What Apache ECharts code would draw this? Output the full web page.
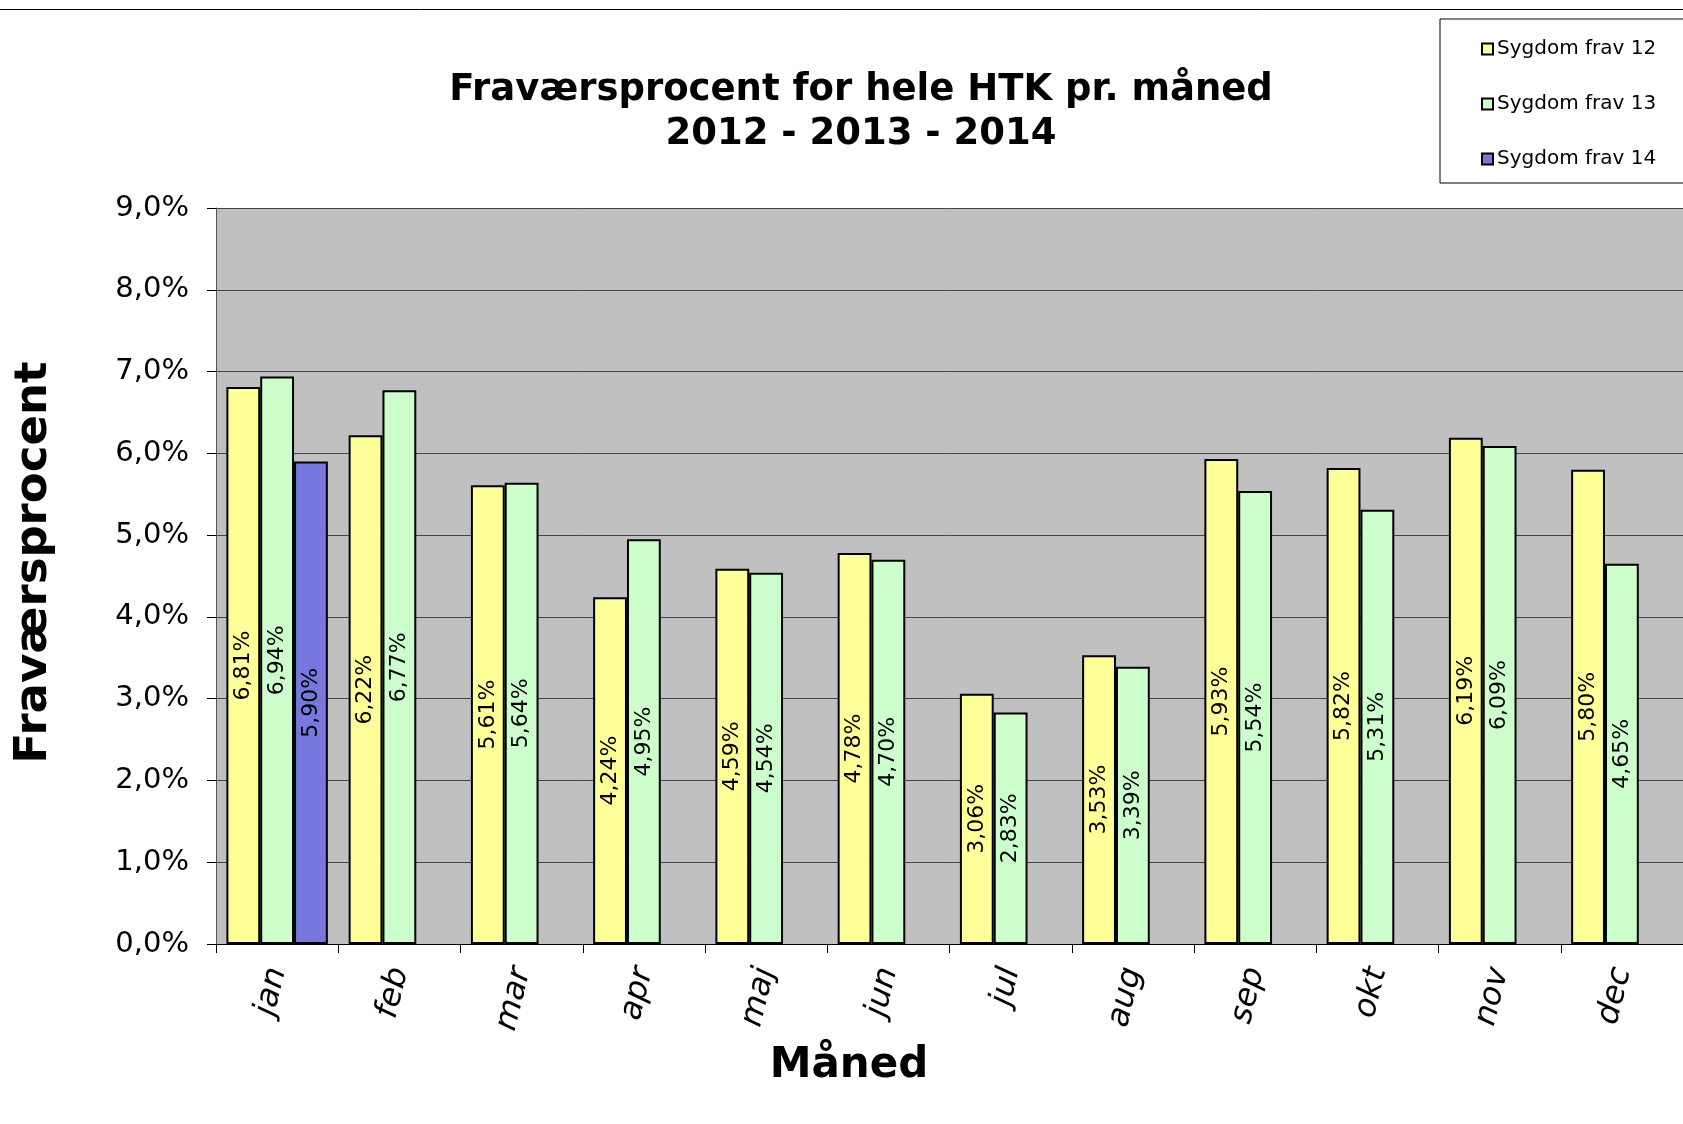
<!DOCTYPE html>
<html>
<head>
<meta charset="utf-8">
<script src="https://cdn.jsdelivr.net/npm/echarts@6/dist/echarts.min.js"></script>
<style>
  html, body { margin: 0; padding: 0; background: #fff; }
  #chart { width: 1683px; height: 1124px; }
</style>
</head>
<body>
<div id="chart"></div>
<script>
// måneder
var months = ['jan', 'feb', 'mar', 'apr', 'maj', 'jun', 'jul', 'aug', 'sep', 'okt', 'nov', 'dec'];
// fraværsprocent pr. år
var frav12 = [6.81, 6.22, 5.61, 4.24, 4.59, 4.78, 3.06, 3.53, 5.93, 5.82, 6.19, 5.80];
var frav13 = [6.94, 6.77, 5.64, 4.95, 4.54, 4.70, 2.83, 3.39, 5.54, 5.31, 6.09, 4.65];
var frav14 = [5.90, null, null, null, null, null, null, null, null, null, null, null];
var seriesNames = ['Sygdom frav 12', 'Sygdom frav 13', 'Sygdom frav 14'];

var font = 'DejaVu Sans, Verdana, sans-serif';

function pct(v, d) {
  return v.toFixed(d).replace('.', ',') + '%';
}

function barSeries(name, data, color) {
  return {
    name: name,
    type: 'bar',
    data: data,
    barGap: '0%',
    barCategoryGap: '17%',
    itemStyle: { color: color, borderColor: '#000', borderWidth: 2 },
    label: {
      show: true,
      position: 'inside',
      rotate: 90,
      fontFamily: font,
      fontSize: 22,
      color: '#000',
      formatter: function (p) { return pct(p.value, 2); }
    }
  };
}

var myChart = echarts.init(document.getElementById('chart'));
var option = {
  backgroundColor: '#fff',
  animation: false,
  title: {
    text: 'Fraværsprocent for hele HTK pr. måned\n2012 - 2013 - 2014',
    left: 856,
    top: 63,
    textAlign: 'center',
    textStyle: { fontFamily: font, fontWeight: 'bold', fontSize: 37, lineHeight: 44, color: '#000' }
  },
  legend: {
    orient: 'vertical',
    left: 1440,
    top: 19,
    padding: [20, 300, 14, 41],
    itemGap: 35,
    itemWidth: 11,
    itemHeight: 11,
    icon: 'rect',
    borderColor: '#000',
    borderWidth: 1,
    backgroundColor: '#fff',
    data: seriesNames,
    textStyle: { fontFamily: font, fontSize: 20, color: '#000', padding: [0, 0, 0, -1], lineHeight: 20 }
  },
  graphic: [
    { type: 'line', shape: { x1: 0, y1: 9.5, x2: 1683, y2: 9.5 }, style: { stroke: '#000', lineWidth: 1 } }
  ],
  grid: {
    left: 216,
    top: 208,
    width: 1476,
    height: 736,
    show: true,
    backgroundColor: '#c0c0c0',
    borderWidth: 0
  },
  xAxis: {
    type: 'category',
    data: months,
    name: 'Måned',
    nameLocation: 'middle',
    nameGap: 101,
    nameTextStyle: { fontFamily: font, fontWeight: 'bold', fontSize: 42, color: '#000', padding: [0, 201, 0, 0] },
    axisLine: { lineStyle: { color: '#000', width: 1 } },
    axisTick: { show: true, length: 9, lineStyle: { color: '#000' } },
    axisLabel: {
      rotate: 76,
      margin: 24,
      fontFamily: font,
      fontStyle: 'italic',
      fontSize: 32,
      color: '#000'
    }
  },
  yAxis: {
    type: 'value',
    min: 0,
    max: 9,
    interval: 1,
    name: 'Fraværsprocent',
    nameLocation: 'middle',
    nameGap: 159,
    nameTextStyle: { fontFamily: font, fontWeight: 'bold', fontSize: 45, color: '#000', padding: [0, 0, 0, 27] },
    axisLine: { show: true, lineStyle: { color: '#555', width: 1 } },
    axisTick: { show: true, length: 9, lineStyle: { color: '#000' } },
    axisLabel: {
      margin: 27,
      fontFamily: font,
      fontSize: 29,
      color: '#000',
      formatter: function (v) { return pct(v, 1); }
    },
    splitLine: { show: true, lineStyle: { color: '#444', width: 1 } }
  },
  series: [
    barSeries(seriesNames[0], frav12, '#ffff99'),
    barSeries(seriesNames[1], frav13, '#ccffcc'),
    barSeries(seriesNames[2], frav14, '#7777dd')
  ]
};
myChart.setOption(option);
</script>
</body>
</html>
